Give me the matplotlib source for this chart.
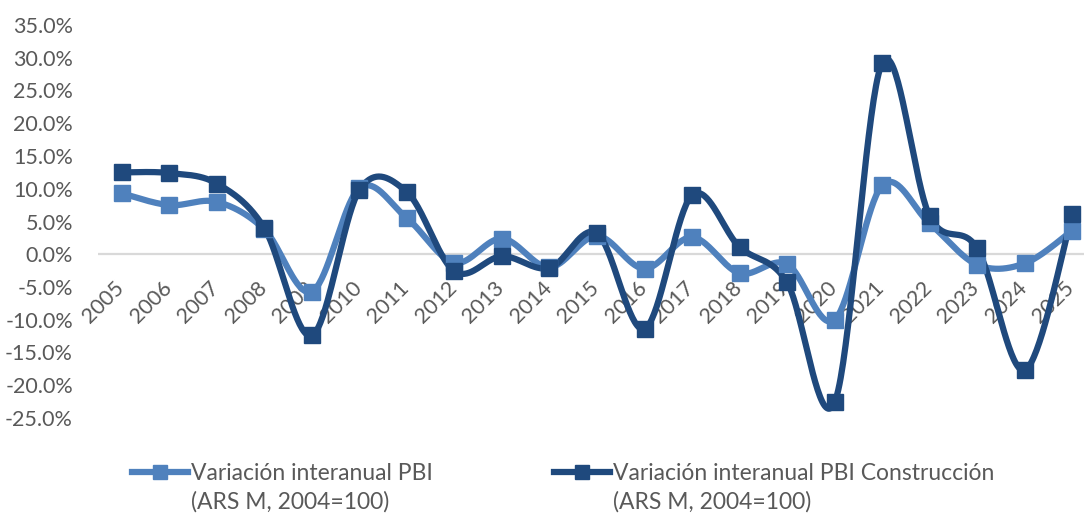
import numpy as np
import matplotlib
matplotlib.use('Agg')
import matplotlib.pyplot as plt
from matplotlib.lines import Line2D
import matplotlib.transforms as mtransforms
from matplotlib import font_manager

# ---- data ----
years = [str(y) for y in range(2005, 2026)]
pbi = [9.3, 7.5, 8.0, 3.8, -5.7, 10.1, 5.5, -1.3, 2.4, -2.0, 2.8,
       -2.2, 2.6, -2.9, -1.5, -10.0, 10.5, 4.7, -1.6, -1.4, 3.6]
constr = [12.5, 12.4, 10.8, 4.0, -12.4, 9.8, 9.5, -2.6, -0.3, -2.1, 3.2,
          -11.4, 9.0, 1.1, -4.3, -22.6, 29.2, 5.8, 0.9, -17.7, 6.1]
yticks = list(range(-25, 40, 5))
label_pbi = 'Variación interanual PBI'
label_con = 'Variación interanual PBI Construcción'
label_sub = '(ARS M, 2004=100)'

C_LIGHT = '#4F81BD'
C_DARK = '#1F497D'
TXT = '#595959'

installed = {f.name for f in font_manager.fontManager.ttflist}
TICKFONT = [f for f in ['Lato', 'Open Sans', 'DejaVu Sans'] if f in installed]
LEGFONT = TICKFONT


def smooth(x, y, n=40):
    """Excel-like smoothed line (Catmull-Rom Bezier through the points)."""
    pts = np.column_stack([x, y]).astype(float)
    m = len(pts)
    out = [pts[0]]
    t = np.linspace(0, 1, n)[1:, None]
    for i in range(m - 1):
        p0 = pts[max(i - 1, 0)]
        p1 = pts[i]
        p2 = pts[i + 1]
        p3 = pts[min(i + 2, m - 1)]
        c1 = p1 + (p2 - p0) / 6.0
        c2 = p2 - (p3 - p1) / 6.0
        seg = ((1 - t) ** 3) * p1 + 3 * ((1 - t) ** 2) * t * c1 \
            + 3 * (1 - t) * t ** 2 * c2 + t ** 3 * p2
        out.extend(seg)
    return np.array(out)


W, H = 1084, 513
PX = 72 / 100  # points per pixel
fig = plt.figure(figsize=(W / 100, H / 100), dpi=100)
ax = fig.add_axes([98 / W, 1 - 418 / H, 998 / W, 393 / H])

x = np.arange(len(years))
ax.axhline(0, color='#D9D9D9', lw=1.6, zorder=1)

for vals, col in [(pbi, C_LIGHT), (constr, C_DARK)]:
    s = smooth(x, vals)
    ax.plot(s[:, 0], s[:, 1], color=col, lw=4.5, solid_capstyle='round', zorder=3)
    ax.plot(x, vals, ls='none', marker='s', ms=11, color=col, zorder=4)

ax.set_xlim(-0.5, len(years) - 0.5)
ax.set_ylim(-25, 35)
ax.set_yticks(yticks)
ax.set_yticklabels([f'{v:.1f}%' for v in yticks], fontsize=15.5, color=TXT,
                   family=TICKFONT)
ax.tick_params(axis='y', length=0, pad=25 * PX)
ax.set_xticks([])
for sp in ax.spines.values():
    sp.set_visible(False)

# category labels next to the zero line, rotated 45°
off = mtransforms.offset_copy(ax.transData, fig=fig, x=-8, y=-23, units='dots')
for i, lab in enumerate(years):
    ax.text(i, 0, lab, transform=off, rotation=45, rotation_mode='anchor',
            ha='right', va='top', fontsize=15.5, color=TXT, family=TICKFONT,
            zorder=2)

# legend
fs = 16.5
hl = 56 / (fs / PX)
htp = 3 / (fs / PX)
for lab, col, x0 in [(label_pbi, C_LIGHT, 132), (label_con, C_DARK, 554)]:
    h = Line2D([], [], color=col, lw=4.5, marker='s', ms=9.5)
    fig.legend(handles=[h], labels=[lab], loc='center left',
               bbox_to_anchor=(x0 / W, 1 - 474 / H), frameon=False,
               borderpad=0, borderaxespad=0, handlelength=hl,
               handletextpad=htp,
               prop={'family': LEGFONT, 'size': fs}, labelcolor=TXT)
    tx = x0 + 56 + 3
    fig.text(tx / W, 1 - 502 / H, label_sub, ha='left', va='center',
             fontsize=fs, family=LEGFONT, color=TXT)

fig.savefig('out.png', dpi=100)
